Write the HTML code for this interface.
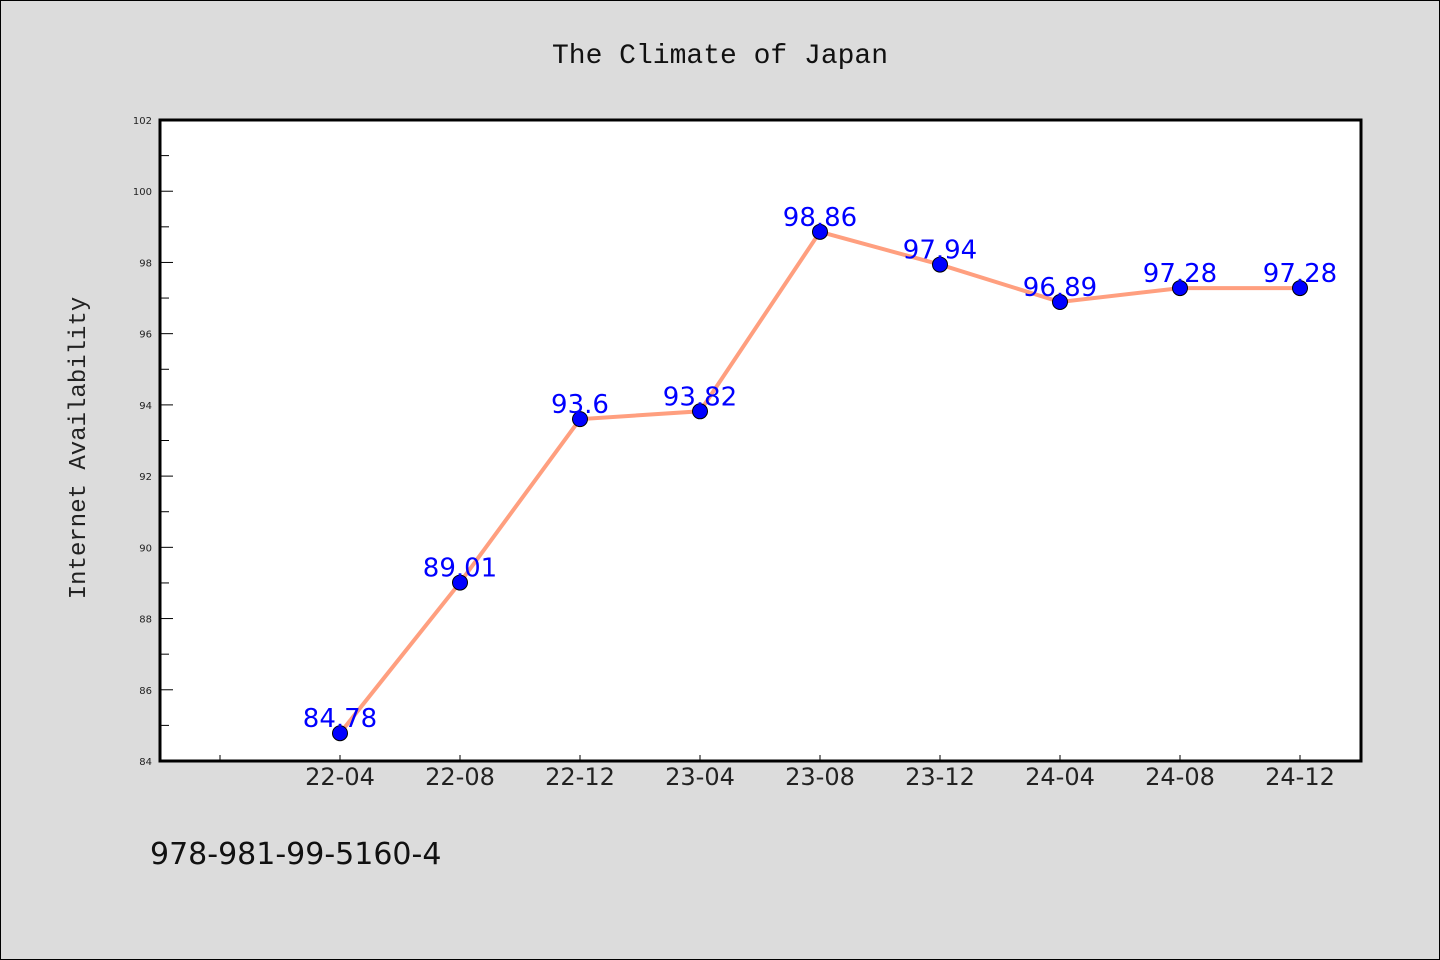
<!DOCTYPE html>
<html><head><meta charset="utf-8"><style>
body{margin:0;background:#dcdcdc;}
svg{display:block}
text{font-family:"DejaVu Sans","Liberation Sans",sans-serif}
</style></head><body>
<svg id="chart" width="1440" height="960">
<rect x="0.5" y="0.5" width="1439" height="959" fill="#dcdcdc" stroke="#000"/>
<text x="720" y="63" text-anchor="middle" font-size="28" style="font-family:'Liberation Mono',monospace" fill="#111">The Climate of Japan</text>
<rect x="160" y="120" width="1201" height="641" fill="#fff"/>
<g id="yaxis"></g>
<g id="xaxis"></g>
<g id="series"></g>
<rect x="160" y="120" width="1201" height="641" fill="none" stroke="#000" stroke-width="3"/>
<text transform="translate(85,448) rotate(-90)" text-anchor="middle" font-size="24" style="font-family:'Liberation Mono',monospace" fill="#222">Internet Availability</text>
<text x="150" y="864" font-size="30" fill="#111">978-981-99-5160-4</text>
</svg>
<script>
const categories=["22-04","22-08","22-12","23-04","23-08","23-12","24-04","24-08","24-12"];
const values=[84.78,89.01,93.6,93.82,98.86,97.94,96.89,97.28,97.28];
const labels=["84.78","89.01","93.6","93.82","98.86","97.94","96.89","97.28","97.28"];
const yTicks=[84,86,88,90,92,94,96,98,100,102];
const NS="http://www.w3.org/2000/svg";
const yMin=84,yMax=102,plotTop=120,plotBot=761,plotLeft=160;
const ys=v=>plotBot-(v-yMin)/(yMax-yMin)*(plotBot-plotTop);
const xs=i=>340+120*i;
function mk(tag,attrs,parent){const e=document.createElementNS(NS,tag);for(const k in attrs)e.setAttribute(k,attrs[k]);parent.appendChild(e);return e;}
const ya=document.getElementById('yaxis'),xa=document.getElementById('xaxis'),sg=document.getElementById('series');
yTicks.forEach((t,k)=>{
 const l=mk('line',{x1:plotLeft,x2:plotLeft+13,y1:ys(t),y2:ys(t),stroke:'#000','stroke-width':1},ya);
 
 
 const tx=mk('text',{x:152,y:ys(t)+4,'text-anchor':'end','font-size':10,fill:'#222'},ya);
 tx.textContent=t;
 
 
 if(k<yTicks.length-1){
  const m=mk('line',{x1:plotLeft,x2:plotLeft+9,y1:ys(t+1),y2:ys(t+1),stroke:'#000','stroke-width':1},ya);
  
  
 }
});
for(let i=-1;i<categories.length;i++){
 const l=mk('line',{x1:xs(i),x2:xs(i),y1:plotBot,y2:plotBot-6,stroke:'#000','stroke-width':1},xa);
 
 
 if(i>=0){
  const tx=mk('text',{x:xs(i),y:785,'text-anchor':'middle','font-size':24,fill:'#222'},xa);
  tx.textContent=categories[i];
  
  
 }
}
const pl=mk('polyline',{points:values.map((v,i)=>xs(i)+','+ys(v)).join(' '),fill:'none',stroke:'#ff9f7f','stroke-width':4},sg);


values.forEach((v,i)=>{
 const c=mk('circle',{cx:xs(i),cy:ys(v),r:7.5,fill:'#0000ff',stroke:'#000','stroke-width':1},sg);
 
 
 const t=mk('text',{x:xs(i),y:ys(v)-6,'text-anchor':'middle','font-size':26,fill:'#0000ff'},sg);
 t.textContent=labels[i];
 
 
});
</script>
</body></html>
